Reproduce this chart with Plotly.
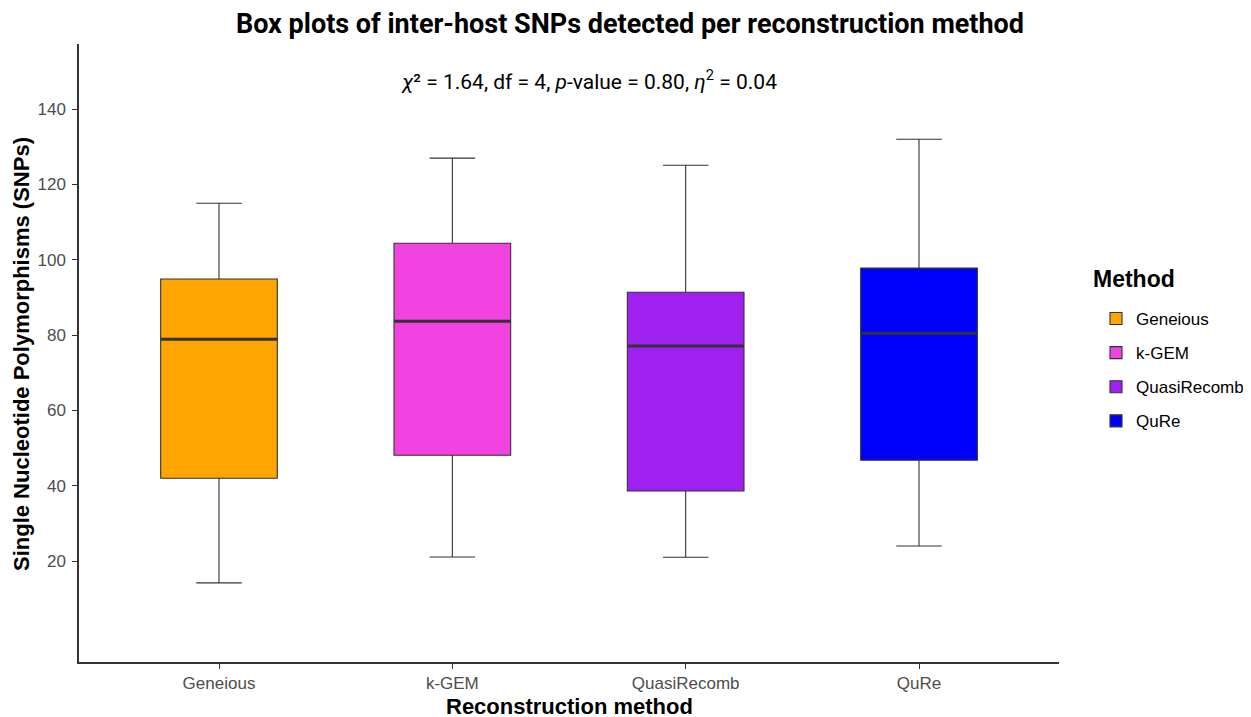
import plotly.graph_objects as go

methods = ["Geneious", "k-GEM", "QuasiRecomb", "QuRe"]
colors = ["#FFA500", "#F342E2", "#A020F0", "#0000FF"]
lower_whisker = [14.2, 21.1, 21.0, 24.0]
q1 = [42.0, 48.1, 38.6, 46.8]
median = [78.9, 83.7, 77.1, 80.5]
q3 = [94.9, 104.4, 91.4, 97.8]
upper_whisker = [115.0, 127.0, 125.1, 132.0]
y_ticks = [20, 40, 60, 80, 100, 120, 140]

fig = go.Figure()
for i, m in enumerate(methods):
    fig.add_trace(go.Box(
        x=[m], name=m,
        q1=[q1[i]], median=[median[i]], q3=[q3[i]],
        lowerfence=[lower_whisker[i]], upperfence=[upper_whisker[i]],
        fillcolor=colors[i],
        line=dict(color="#333333", width=1.1),
        width=0.5,
        whiskerwidth=0.39,
        boxpoints=False,
        legendgroup=m,
        hoverinfo="skip",
    ))
    fig.add_shape(type="line", xref="x", yref="y",
                  x0=i - 0.25, x1=i + 0.25, y0=median[i], y1=median[i],
                  line=dict(color="#333333", width=3))

fig.update_layout(
    width=1251, height=717,
    paper_bgcolor="white", plot_bgcolor="white",
    margin=dict(l=71, r=200, t=36, b=63),
    boxmode="overlay",
    title=dict(text="<b>Box plots of inter-host SNPs detected per reconstruction method</b>",
               x=622 / 1251, xanchor="center", y=1 - 16 / 717, yanchor="middle",
               font=dict(family="Roboto", size=27, color="black")),
    legend=dict(
        font=dict(family="Liberation Sans, Arial", size=17, color="black"),
        xref="container", yref="container",
        x=1088 / 1251, xanchor="left", y=1 - 293 / 717, yanchor="top",
        tracegroupgap=9, traceorder="grouped",
    ),
    xaxis=dict(
        type="category", categoryorder="array", categoryarray=methods,
        range=[-0.6, 3.6], automargin=False,
        showline=True, linecolor="#333333", linewidth=1.5,
        ticks="outside", ticklen=5, tickcolor="#333333",
        tickfont=dict(family="Liberation Sans, Arial", size=17, color="#4D4D4D"),
        showgrid=False, zeroline=False,
    ),
    yaxis=dict(
        range=[-6.8, 157.3], automargin=False,
        tickvals=y_ticks,
        showline=True, linecolor="#333333", linewidth=1.5,
        ticks="outside", ticklen=5, tickcolor="#333333", ticklabelstandoff=3,
        tickfont=dict(family="Liberation Sans, Arial", size=17, color="#4D4D4D"),
        showgrid=False, zeroline=False,
    ),
    showlegend=True,
)

# legend title
fig.add_annotation(
    text="<b>Method</b>", xref="paper", yref="paper",
    x=(1091 - 79) / 980, y=(662 - 279) / 618, xanchor="left", yanchor="middle",
    showarrow=False, font=dict(family="Liberation Sans, Arial", size=23, color="black"),
)

# axis titles
fig.add_annotation(
    text="<b>Reconstruction method</b>", xref="paper", yref="paper",
    x=0.5, y=(662 - 706) / 618, xanchor="center", yanchor="middle", showarrow=False,
    font=dict(family="Liberation Sans, Arial", size=22, color="black"),
)
fig.add_annotation(
    text="<b>Single Nucleotide Polymorphisms (SNPs)</b>", xref="paper", yref="paper",
    x=(22 - 79) / 980, y=(662 - 354) / 618, xanchor="center", yanchor="middle",
    textangle=-90, showarrow=False,
    font=dict(family="Liberation Sans, Arial", size=22, color="black"),
)

fig.add_annotation(
    text="<i>χ</i>² = 1.64, df = 4, <i>p</i>-value = 0.80, <i>η</i><sup>2</sup> = 0.04",
    xref="paper", yref="paper", x=(589 - 79) / 980, y=(662 - 80) / 618,
    xanchor="center", yanchor="middle", showarrow=False,
    font=dict(family="Roboto", size=21, color="black"),
)

fig.write_html("out.html")
